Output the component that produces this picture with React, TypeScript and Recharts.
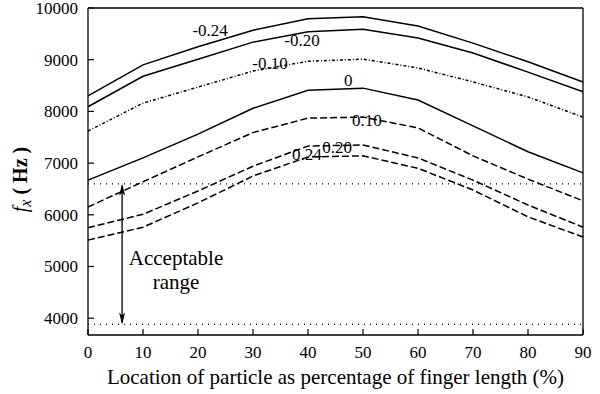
import { LineChart, Line, XAxis, YAxis, ReferenceLine, ReferenceDot, Label } from "recharts";

const locations = [0, 10, 20, 30, 40, 50, 60, 70, 80, 90];

const seriesM024 = [8300, 8900, 9250, 9570, 9790, 9830, 9650, 9320, 8960, 8570];
const seriesM020 = [8090, 8680, 9010, 9340, 9540, 9590, 9420, 9130, 8760, 8380];
const seriesM010 = [7620, 8160, 8470, 8780, 8970, 9010, 8840, 8570, 8280, 7890];
const seriesP000 = [6670, 7100, 7560, 8060, 8410, 8450, 8220, 7720, 7220, 6810];
const seriesP010 = [6150, 6640, 7120, 7590, 7870, 7890, 7680, 7140, 6690, 6270];
const seriesP020 = [5750, 6010, 6460, 6940, 7330, 7350, 7100, 6670, 6190, 5760];
const seriesP024 = [5510, 5760, 6230, 6750, 7120, 7140, 6900, 6480, 5960, 5570];

const xTicks = [0, 10, 20, 30, 40, 50, 60, 70, 80, 90];
const yTicks = [4000, 5000, 6000, 7000, 8000, 9000, 10000];
const xMax = 90;
const yMin = 3675;
const yMax = 10000;

// acceptable range bounds (Hz)
const rangeTop = 6600;
const rangeBottom = 3880;

// curve labels: text, x (%), y (Hz)
const curveLabels: [string, number, number][] = [
  ["-0.24", 22.2, 9574],
  ["-0.20", 38.9, 9381],
  ["-0.10", 33.1, 8936],
  ["0", 47.3, 8607],
  ["0.10", 50.7, 7834],
  ["0.20", 45.3, 7311],
  ["0.24", 39.8, 7176],
];

const data = locations.map((x, i) => ({
  x,
  m024: seriesM024[i],
  m020: seriesM020[i],
  m010: seriesM010[i],
  p000: seriesP000[i],
  p010: seriesP010[i],
  p020: seriesP020[i],
  p024: seriesP024[i],
}));

const lines = [
  { key: "m024", dash: undefined },
  { key: "m020", dash: undefined },
  { key: "m010", dash: "3 2 1 2" },
  { key: "p000", dash: undefined },
  { key: "p010", dash: "7 3" },
  { key: "p020", dash: "7 3" },
  { key: "p024", dash: "7 3" },
];

const font = "'Liberation Serif', 'Times New Roman', serif";
const TICK_GAP = 10;

// tick label plus a short tick pointing into the plot
function XTick({ x, y, payload }: any) {
  const axisY = y - TICK_GAP;
  return (
    <g>
      <line x1={x} y1={axisY} x2={x} y2={axisY - 6} stroke="#000" strokeWidth={1.2} />
      <text x={x} y={y} dy="0.78em" textAnchor="middle" fontFamily={font} fontSize={17} fill="#000">
        {payload.value}
      </text>
    </g>
  );
}

function YTick({ x, y, payload }: any) {
  const axisX = x + TICK_GAP;
  return (
    <g>
      <line x1={axisX} y1={y} x2={axisX + 6} y2={y} stroke="#000" strokeWidth={1.2} />
      <text x={x} y={y} dy="0.35em" textAnchor="end" fontFamily={font} fontSize={17} fill="#000">
        {payload.value}
      </text>
    </g>
  );
}

function YTitle({ viewBox }: any) {
  const cx = viewBox.x + 27;
  const cy = viewBox.y + viewBox.height / 2 + 8;
  return (
    <text
      x={cx}
      y={cy}
      transform={`rotate(-90, ${cx}, ${cy})`}
      textAnchor="middle"
      fontFamily={font}
      fontSize={20}
      fill="#000"
    >
      <tspan fontStyle="italic">f</tspan>
      <tspan fontStyle="italic" fontSize={16} dy={4}>x</tspan>
      <tspan dy={-4} fontWeight="bold">{" ( Hz )"}</tspan>
    </text>
  );
}

function RangeArrow(props: any) {
  const { x1, y1, x2, y2 } = props;
  const top = Math.min(y1, y2);
  const bottom = Math.max(y1, y2);
  return (
    <g>
      <line x1={x1} y1={top + 2} x2={x2} y2={bottom - 2} stroke="#000" strokeWidth={1.3} />
      <path d={`M${x1},${top} L${x1 - 3},${top + 12} L${x1},${top + 9} L${x1 + 3},${top + 12} Z`} fill="#000" />
      <path d={`M${x1},${bottom} L${x1 - 3},${bottom - 12} L${x1},${bottom - 9} L${x1 + 3},${bottom - 12} Z`} fill="#000" />
    </g>
  );
}

function CurveText({ cx, cy, text }: any) {
  return (
    <text x={cx} y={cy + 6} textAnchor="middle" fontFamily={font} fontSize={17} fill="#000">
      {text}
    </text>
  );
}

function RangeText({ cx, cy }: any) {
  return (
    <text textAnchor="middle" fontFamily={font} fontSize={21} fill="#000">
      <tspan x={cx} y={cy - 2}>Acceptable</tspan>
      <tspan x={cx} y={cy + 22}>range</tspan>
    </text>
  );
}

export default function App() {
  return (
    <div style={{ position: "absolute", left: 0, top: 0, background: "#fff" }}>
      <LineChart width={600} height={394} data={data} margin={{ top: 8, right: 17, bottom: 0, left: 0 }}>
        <XAxis
          dataKey="x"
          type="number"
          domain={[0, xMax]}
          ticks={xTicks}
          interval={0}
          height={59}
          stroke="#000"
          strokeWidth={1.3}
          tickLine={false}
          tickSize={0}
          tickMargin={TICK_GAP}
          tick={<XTick />}
        >
          <Label
            value="Location of particle as percentage of finger length (%)"
            position="insideBottom"
            offset={10}
            style={{ fill: "#000", fontFamily: font, fontSize: 21 }}
          />
        </XAxis>
        <YAxis
          type="number"
          domain={[yMin, yMax]}
          ticks={yTicks}
          interval={0}
          width={88}
          stroke="#000"
          strokeWidth={1.3}
          tickLine={false}
          tickSize={0}
          tickMargin={TICK_GAP}
          tick={<YTick />}
          allowDataOverflow
        >
          <Label content={<YTitle />} />
        </YAxis>

        {/* frame: top and right edges */}
        <ReferenceLine y={yMax} stroke="#000" strokeWidth={1.3} ifOverflow="visible" />
        <ReferenceLine x={xMax} stroke="#000" strokeWidth={1.3} ifOverflow="visible" />

        <ReferenceLine y={rangeTop} stroke="#000" strokeWidth={1.2} strokeDasharray="1 5" />
        <ReferenceLine y={rangeBottom} stroke="#000" strokeWidth={1.2} strokeDasharray="1 5" />

        {lines.map((l) => (
          <Line
            key={l.key}
            dataKey={l.key}
            type="linear"
            stroke="#000"
            strokeWidth={1.5}
            strokeDasharray={l.dash}
            dot={false}
            activeDot={false}
            isAnimationActive={false}
          />
        ))}

        <ReferenceLine
          segment={[{ x: 6.2, y: rangeTop }, { x: 6.2, y: rangeBottom }]}
          shape={(p: any) => <RangeArrow {...p} />}
        />
        <ReferenceDot x={16} y={4990} r={0} shape={(p: any) => <RangeText {...p} />} />

        {curveLabels.map(([text, x, y]) => (
          <ReferenceDot key={text} x={x} y={y} r={0} shape={(p: any) => <CurveText {...p} text={text} />} />
        ))}
      </LineChart>
    </div>
  );
}
